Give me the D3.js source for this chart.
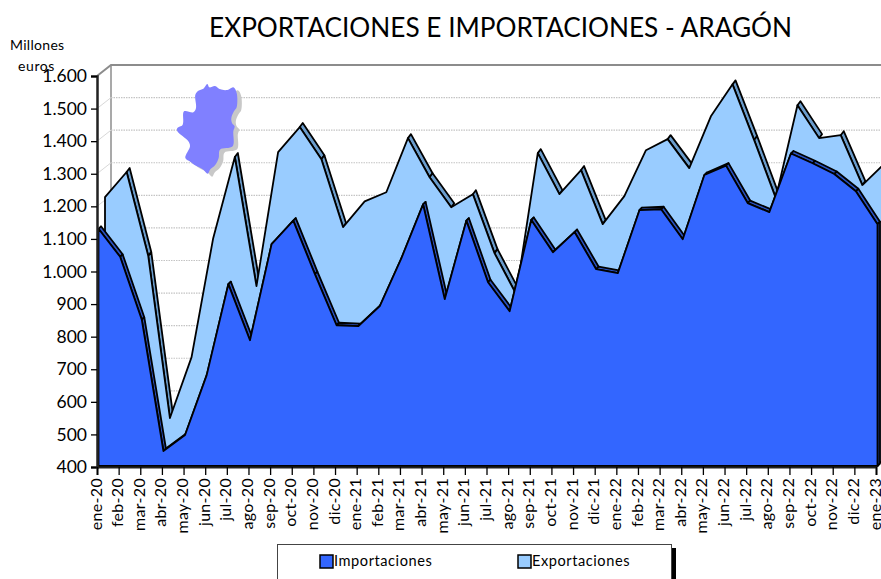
<!DOCTYPE html>
<html><head><meta charset="utf-8">
<script src="https://cdn.jsdelivr.net/npm/d3@7"></script>
<style>
html,body{margin:0;padding:0;background:#fff;overflow:hidden}
svg{display:block}
text{font-family:Lato,sans-serif;fill:#000}
</style></head><body>
<svg id="c" width="881" height="579"></svg>
<script>
const months = ["ene-20","feb-20","mar-20","abr-20","may-20","jun-20","jul-20","ago-20","sep-20","oct-20","nov-20","dic-20",
"ene-21","feb-21","mar-21","abr-21","may-21","jun-21","jul-21","ago-21","sep-21","oct-21","nov-21","dic-21",
"ene-22","feb-22","mar-22","abr-22","may-22","jun-22","jul-22","ago-22","sep-22","oct-22","nov-22","dic-22","ene-23"];
const importaciones = [1128,1042,849,446,495,679,958,786,1081,1153,989,832,829,891,1038,1203,912,1153,964,875,1155,1056,1118,1004,992,1185,1188,1096,1293,1322,1207,1179,1359,1329,1296,1243,1142];
const exportaciones = [1213,1290,1032,535,722,1087,1336,940,1351,1428,1329,1121,1200,1228,1394,1274,1182,1222,1041,915,1348,1222,1296,1130,1216,1357,1391,1302,1461,1559,1388,1210,1495,1394,1403,1250,1314];
const yTicks = [400,500,600,700,800,900,1000,1100,1200,1300,1400,1500,1600];
const seriesNames = ["Importaciones","Exportaciones"];
const aragon = [[112,18],[118,28],[135,24],[150,34],[172,36],[190,28],[200,45],[200,88],[192,100],[184,120],[186,135],[194,145],[190,160],[188,205],[150,215],[146,240],[135,262],[120,275],[113,287],[100,275],[75,262],[62,252],[46,240],[60,205],[55,190],[22,160],[22,150],[38,140],[42,100],[70,103],[78,90],[76,50],[85,38],[100,32]];

const svg = d3.select("#c");
const x = d3.scalePoint().domain(months).range([97,876]);
const y = d3.scaleLinear().domain([400,1600]).range([467,76]);
const fmt = d3.formatLocale({decimal:",",thousands:".",grouping:[3],currency:["","€"]}).format(",d");
const wall = {dx:14,dy:-11};

svg.append("text").attr("x",500.5).attr("y",37).attr("text-anchor","middle").attr("font-size",26.2).text("EXPORTACIONES E IMPORTACIONES - ARAGÓN");

// walls + grid
const g = svg.append("g");
g.append("path").attr("d",`M97,${y(1600)}L${97+wall.dx},${y(1600)+wall.dy}L881,${y(1600)+wall.dy}`).attr("fill","none").attr("stroke","#8c8c8c").attr("stroke-width",2);
g.append("line").attr("x1",111).attr("x2",111).attr("y1",65).attr("y2",467+wall.dy).attr("stroke","#8c8c8c").attr("stroke-width",1.5);
g.selectAll("line.side").data(yTicks.slice(0,-1)).join("line").attr("class","side")
 .attr("x1",97).attr("x2",111).attr("y1",d=>y(d)).attr("y2",d=>y(d)+wall.dy).attr("stroke","#d8d8d8");
g.selectAll("line.grid").data(yTicks.slice(0,-1)).join("line").attr("class","grid")
 .attr("x1",111).attr("x2",881).attr("y1",d=>y(d)+wall.dy).attr("y2",d=>y(d)+wall.dy)
 .attr("stroke","#c4c4c4").attr("stroke-width",1.2).attr("stroke-dasharray","1.5,1");

function area3d(values, fr, bk, fill, side, showRising){
  const gg = svg.append("g").attr("stroke","#000").attr("stroke-width",1.8).attr("stroke-linejoin","round");
  const P = (i,o,v)=>[x(months[i])+o[0], y(v===undefined?values[i]:v)+o[1]];
  const quads = d3.range(values.length-1)
    .filter(i=>showRising || values[i+1] <= values[i])
    .map(i=>[P(i,fr),P(i+1,fr),P(i+1,bk),P(i,bk)]);
  const last = values.length-1;
  quads.push([P(last,fr),P(last,fr,400),P(last,bk,400),P(last,bk)]);
  gg.selectAll("path.s").data(quads).join("path").attr("class","s")
    .attr("d",d=>d3.line()(d)+"Z").attr("fill",side);
  const front = [[x(months[0])+fr[0],y(400)+fr[1]],...values.map((v,i)=>P(i,fr)),[x(months[last])+fr[0],y(400)+fr[1]]];
  gg.append("path").attr("d",d3.line()(front)+"Z").attr("fill",fill);
}
area3d(exportaciones,[8,-5],[11,-9],"#99ccff","#6a9ccc",false);
area3d(importaciones,[1.5,-1],[4,-3.5],"#3366ff","#2a52c0",true);

// axes
const ay = svg.append("g").attr("transform","translate(97,0)").call(d3.axisLeft(y).tickValues(yTicks).tickFormat(fmt).tickSize(6).tickPadding(4));
ay.selectAll("text").attr("font-size",17.5);
ay.select(".domain").attr("stroke","#222").attr("stroke-width",2.5);
const ax = svg.append("g").attr("transform","translate(0,467)").call(d3.axisBottom(x).tickSize(8).tickPadding(3));
ax.select(".domain").attr("stroke","#222").attr("stroke-width",2);
ax.selectAll("text").attr("font-size",16).attr("letter-spacing",0.3).attr("text-anchor","end").attr("dominant-baseline","middle")
  .attr("transform","translate(0,11) rotate(-90)").attr("x",0).attr("y",0).attr("dy",0);
svg.selectAll(".tick line").attr("stroke","#000").attr("stroke-width",1.3);
svg.selectAll(".tick text").style("font-family","Lato,sans-serif");

svg.append("text").attr("x",10).attr("y",50).attr("font-size",14).attr("letter-spacing",0.3).text("Millones");
svg.append("text").attr("x",18).attr("y",71).attr("font-size",14).attr("letter-spacing",0.6).text("euros");

// Aragón logo
const mapPts = aragon.map(p=>[170+p[0]/3,78+p[1]/3]);
const mapLine = d3.line().curve(d3.curveCatmullRomClosed.alpha(0.5));
svg.append("path").attr("d",mapLine(mapPts)).attr("transform","translate(4.5,3)").attr("fill","#c8c8c8");
svg.append("path").attr("d",mapLine(mapPts)).attr("fill","#8080ff");

// legend
const lg = svg.append("g");
lg.append("rect").attr("x",672).attr("y",548).attr("width",4).attr("height",31).attr("fill","#000");
lg.append("rect").attr("x",277.5).attr("y",544.5).attr("width",394).attr("height",40).attr("fill","#fff").attr("stroke","#444");
const legendFill=["#3366ff","#99ccff"], legendX=[319,517];
seriesNames.forEach((n,i)=>{
  lg.append("rect").attr("x",legendX[i]+1).attr("y",555).attr("width",13).attr("height",13).attr("fill",legendFill[i]).attr("stroke","#000").attr("stroke-width",1.5);
  lg.append("text").attr("x",legendX[i]+15).attr("y",566).attr("font-size",14.6).attr("letter-spacing",0.55).text(n);
});
</script>
</body></html>
